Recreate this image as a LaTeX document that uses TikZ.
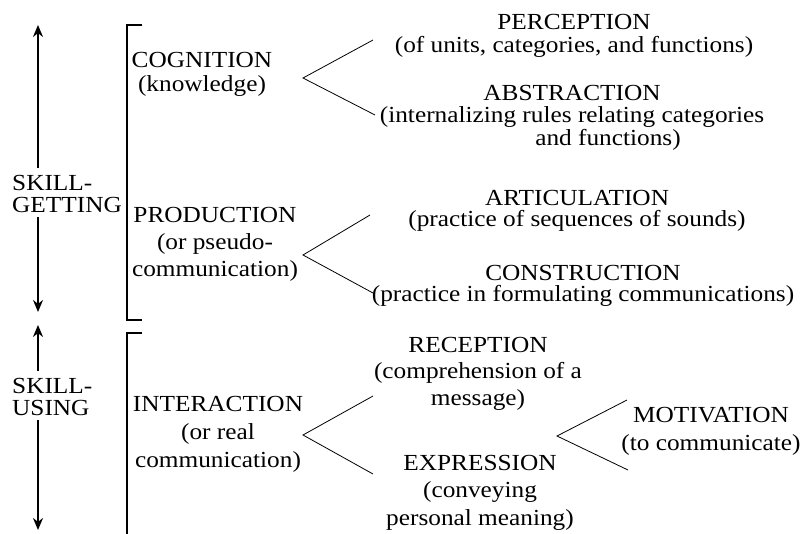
\documentclass[tikz,border=0pt]{standalone}
\usepackage{fontspec}
\setmainfont{Liberation Serif}[FakeStretch=1.1]
\usetikzlibrary{arrows.meta}
\begin{document}
\begin{tikzpicture}[x=1pt,y=-1pt,
  txt/.style={anchor=base, align=center, inner sep=0pt, font=\fontsize{23}{#1}\selectfont},
  txt/.default=24,
  lft/.style={anchor=base west, align=left, inner sep=0pt, font=\fontsize{23}{#1}\selectfont},
  brk/.style={line width=1.3pt},
  br/.style={line width=0.8pt},
  arr/.style={line width=1.8pt, -{Stealth[length=12pt,width=10pt]}}]
\useasboundingbox[fill=white] (0,0) rectangle (802,533);
% left labels (anchored at last line's baseline)
\node[lft=22] (sg) at (12,212) {SKILL-\\GETTING};
\node[lft=22] (su) at (12,415) {SKILL-\\USING};
% arrows
\coordinate (a1t) at (38,25);  \coordinate (a1u) at (38,168);
\coordinate (a1d) at (38,217); \coordinate (a1b) at (38,312);
\coordinate (a2t) at (38,325); \coordinate (a2u) at (38,371);
\coordinate (a2d) at (38,420); \coordinate (a2b) at (38,530);
\draw[arr] (a1u) -- (a1t);
\draw[arr] (a1d) -- (a1b);
\draw[arr] (a2u) -- (a2t);
\draw[arr] (a2d) -- (a2b);
% brackets
\coordinate (b1a) at (142,25); \coordinate (b1b) at (127,25);
\coordinate (b1c) at (127,320); \coordinate (b1d) at (142,320);
\coordinate (b2a) at (142,333); \coordinate (b2b) at (127,333);
\coordinate (b2c) at (127,540);
\draw[brk] (b1a) -- (b1b) -- (b1c) -- (b1d);
\draw[brk] (b2a) -- (b2b) -- (b2c);
% middle column
\node[txt=24] (cog) at (202,91) {COGNITION\\(knowledge)};
\node[txt=27] (prod) at (215,276) {PRODUCTION\\(or pseudo-\\communication)};
\node[txt=28] (inter) at (218,467) {INTERACTION\\(or real\\communication)};
% right column
\node[txt=23] (perc) at (574,52) {PERCEPTION\\(of units, categories, and functions)};
\node[txt=22.5] (abst) at (572,145) {ABSTRACTION\\(internalizing rules relating categories\\\hspace*{72pt}and functions)};
\node[txt=21.5] (artic) at (577,226.5) {ARTICULATION\\(practice of sequences of sounds)};
\node[txt=21.5] (constr) at (583,301.5) {CONSTRUCTION\\(practice in formulating communications)};
\node[txt=26.5] (recep) at (478,405) {RECEPTION\\(comprehension of a\\message)};
\node[txt=27.5] (expr) at (480,525) {EXPRESSION\\(conveying\\personal meaning)};
\node[txt=28] (motiv) at (711,450) {MOTIVATION\\(to communicate)};
% branches
\coordinate (cA) at (303,78);  \coordinate (cU) at (373,40);  \coordinate (cL) at (375,115);
\coordinate (pA) at (303,255); \coordinate (pU) at (370,215); \coordinate (pL) at (373,293);
\coordinate (iA) at (303,435); \coordinate (iU) at (373,396); \coordinate (iL) at (373,474);
\coordinate (mA) at (557,436); \coordinate (mU) at (627,400); \coordinate (mL) at (628,470);
\draw[br] (cU) -- (cA) -- (cL);
\draw[br] (pU) -- (pA) -- (pL);
\draw[br] (iU) -- (iA) -- (iL);
\draw[br] (mU) -- (mA) -- (mL);
\end{tikzpicture}
\end{document}
